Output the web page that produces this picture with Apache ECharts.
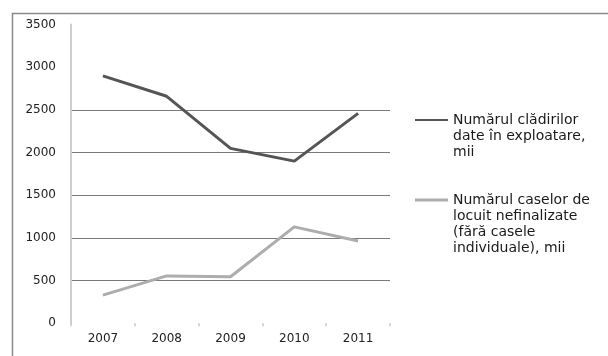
<!DOCTYPE html>
<html>
<head>
<meta charset="utf-8">
<script src="https://cdn.jsdelivr.net/npm/echarts@6/dist/echarts.min.js"></script>
<style>
  html, body { margin: 0; padding: 0; background: #fff; }
  #chart { width: 608px; height: 356px; }
</style>
</head>
<body>
<div id="chart"></div>
<script>
const years = ['2007', '2008', '2009', '2010', '2011'];
const cladiriDate = [2900, 2660, 2050, 1900, 2460];
const caseNefinalizate = [330, 555, 545, 1130, 965];
const yTicks = [0, 500, 1000, 1500, 2000, 2500, 3000, 3500];

const nameCladiri = 'Numărul clădirilor\ndate în exploatare,\nmii';
const nameCase = 'Numărul caselor de\nlocuit nefinalizate\n(fără casele\nindividuale), mii';

// grid lines faded out in the scan at 0, 3000 and 3500
const gridColors = yTicks.map(v => (v === 0 || v >= 3000) ? 'rgba(0,0,0,0)' : '#7a7a7a');

const LINE_H = 16;

// legend icon: a short line sitting level with the first text line
function topLineIcon(lines, thick) {
  const h = lines * LINE_H;
  const y0 = LINE_H / 2 - thick / 2;
  const y1 = y0 + thick;
  return 'path://M0,0L0.01,0L0,0.01Z' +
    'M0,' + y0 + 'L33,' + y0 + 'L33,' + y1 + 'L0,' + y1 + 'Z' +
    'M0,' + (h - 0.01) + 'L0.01,' + h + 'L0,' + h + 'Z';
}

const legendText = {
  fontFamily: 'DejaVu Sans, sans-serif',
  fontSize: 14,
  color: '#1a1a1a',
  lineHeight: LINE_H
};

const chart = echarts.init(document.getElementById('chart'));

chart.setOption({
  animation: false,
  backgroundColor: '#fff',
  graphic: [{
    type: 'rect',
    left: 10, top: 11,
    shape: { width: 640, height: 400 },
    style: { fill: 'none', stroke: '#8a8a8a', lineWidth: 1.5 },
    silent: true
  }],
  grid: { left: 71, right: 218, top: 24.6, bottom: 32.7 },
  legend: [{
    left: 415, top: 112, padding: 0,
    data: [nameCladiri],
    icon: topLineIcon(3, 2), itemWidth: 33, itemHeight: 3 * LINE_H,
    itemStyle: { borderWidth: 0 },
    textStyle: legendText
  }, {
    left: 415, top: 192, padding: 0,
    data: [nameCase],
    icon: topLineIcon(4, 3), itemWidth: 33, itemHeight: 4 * LINE_H,
    itemStyle: { borderWidth: 0 },
    textStyle: legendText
  }],
  xAxis: {
    type: 'category',
    data: years,
    boundaryGap: true,
    axisLine: { show: false },
    axisTick: { show: true, length: 3, lineStyle: { color: '#c8c8c8', width: 1.5 } },
    axisLabel: { color: '#222', fontFamily: 'DejaVu Sans, sans-serif', fontSize: 12, margin: 10 }
  },
  yAxis: {
    type: 'value',
    min: 0, max: 3500, interval: 500,
    axisLine: { show: true, lineStyle: { color: '#cfcfcf', width: 2 } },
    axisTick: { show: false },
    axisLabel: {
      color: '#222', fontFamily: 'DejaVu Sans, sans-serif', fontSize: 12, margin: 15,
      formatter: v => String(v)
    },
    splitLine: { show: true, lineStyle: { color: gridColors, width: 1 } }
  },
  series: [{
    name: nameCladiri,
    type: 'line',
    data: cladiriDate,
    symbol: 'none',
    color: '#555555',
    lineStyle: { color: '#555555', width: 3 }
  }, {
    name: nameCase,
    type: 'line',
    data: caseNefinalizate,
    symbol: 'none',
    color: '#adadad',
    lineStyle: { color: '#adadad', width: 3 }
  }]
});
</script>
</body>
</html>
